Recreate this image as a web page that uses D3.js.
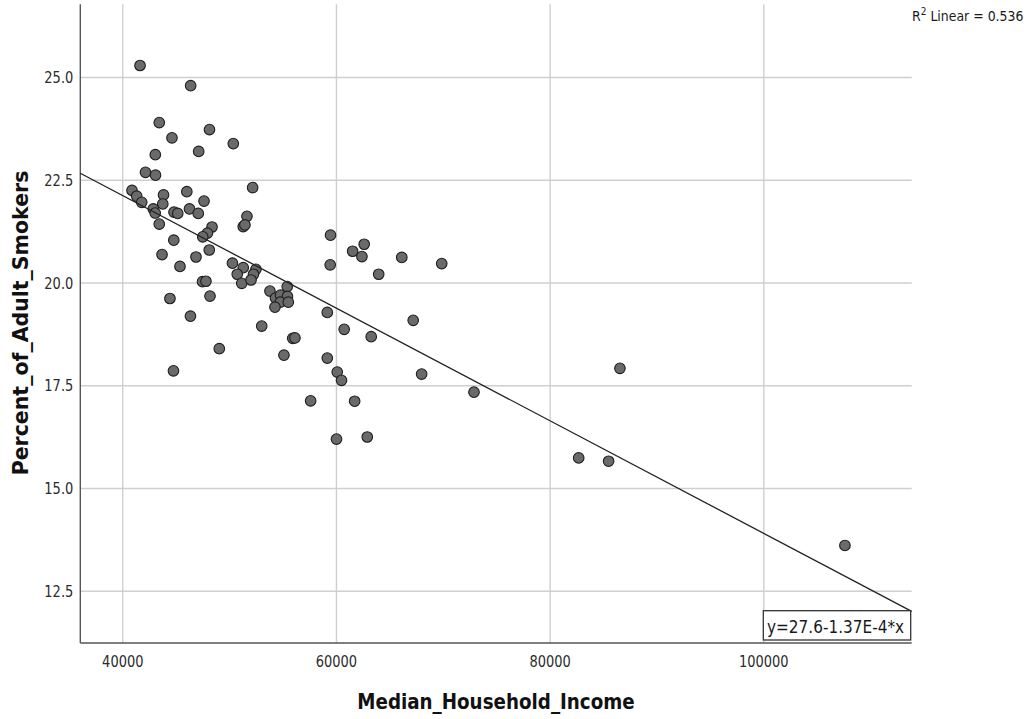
<!DOCTYPE html>
<html>
<head>
<meta charset="utf-8">
<script src="https://cdn.jsdelivr.net/npm/d3@7"></script>
<style>
  html, body { margin: 0; padding: 0; background: #fff; }
  svg { display: block; }
</style>
</head>
<body>
<svg id="chart" width="1033" height="719"></svg>
<script>
// Median household income per county (USD)
const income = [
  41660, 46400, 43460, 48160, 44650, 50390, 47150, 43090, 42170, 43110,
  52200, 40910, 41350, 41820, 43860, 43790, 46040, 47650, 46290, 47110,
  44840, 45190, 42900, 43080, 43460, 51670, 51320, 51480, 48400, 47970,
  47530, 44820, 59490, 62640, 61560, 62430, 66160, 69900, 59460, 64000,
  43720, 48140, 46900, 45400, 50310, 51320, 50760, 52510, 52280, 51180,
  52050, 47510, 47830, 53820, 44460, 48210, 46380, 49080, 44790, 55440,
  54340, 54810, 55460, 54790, 54290, 55540, 53050, 55950, 56160, 55130,
  59190, 67230, 60770, 63300, 59190, 60120, 60520, 68020, 86580, 72920,
  57630, 61750, 60050, 62930, 82720, 85520, 107640
];

// Percent of adult smokers for the same counties
const smokers = [
  25.28, 24.79, 23.89, 23.72, 23.52, 23.38, 23.19, 23.11, 22.68, 22.61,
  22.31, 22.24, 22.10, 21.95, 22.13, 21.91, 22.21, 21.98, 21.79, 21.68,
  21.71, 21.68, 21.79, 21.69, 21.42, 21.61, 21.36, 21.40, 21.35, 21.20,
  21.11, 21.03, 21.15, 20.93, 20.76, 20.63, 20.61, 20.46, 20.43, 20.20,
  20.68, 20.79, 20.62, 20.39, 20.47, 20.36, 20.20, 20.32, 20.20, 19.98,
  20.06, 20.02, 20.03, 19.79, 19.61, 19.67, 19.18, 18.39, 17.85, 19.90,
  19.62, 19.69, 19.66, 19.52, 19.40, 19.52, 18.94, 18.64, 18.65, 18.23,
  19.27, 19.08, 18.86, 18.68, 18.16, 17.82, 17.62, 17.77, 17.91, 17.33,
  17.12, 17.11, 16.19, 16.24, 15.73, 15.65, 13.60
];

const xTicks = [40000, 60000, 80000, 100000];
const yTicks = [12.5, 15.0, 17.5, 20.0, 22.5, 25.0];

// Linear fit shown on the chart
const fitIntercept = 27.6;
const fitSlope = -1.37e-4;
const rSquared = 0.536;

const FONT = "'DejaVu Sans', 'Lucida Grande', sans-serif";
const TEXT_STRETCH = 1.22;   // tall, narrow lettering

const plot = { left: 80.3, right: 911.7, top: 4.3, bottom: 643 };

const svg = d3.select("#chart");

const x = d3.scaleLinear().domain([36070, 113890]).range([plot.left, plot.right]);
const y = d3.scaleLinear().domain([11.227, 26.769]).range([plot.bottom, plot.top]);

// ---- gridlines + tick labels via d3 axes ----
const xAxis = d3.axisBottom(x)
  .tickValues(xTicks)
  .tickFormat(d3.format("d"))
  .tickSize(-(plot.bottom - plot.top))
  .tickSizeOuter(0);

const yAxis = d3.axisLeft(y)
  .tickValues(yTicks)
  .tickFormat(d3.format(".1f"))
  .tickSize(-(plot.right - plot.left))
  .tickSizeOuter(0);

const gx = svg.append("g")
  .attr("transform", `translate(0,${plot.bottom})`)
  .call(xAxis);
const gy = svg.append("g")
  .attr("transform", `translate(${plot.left},0)`)
  .call(yAxis);

[gx, gy].forEach(g => {
  g.select(".domain").remove();
  g.selectAll(".tick line").attr("stroke", "#cfcfcf").attr("stroke-width", 1.4);
  g.selectAll(".tick text")
    .attr("fill", "#2b2b2b")
    .attr("font-family", FONT)
    .attr("font-size", 13);
});

gx.selectAll(".tick text")
  .attr("y", 0).attr("dy", null)
  .attr("text-anchor", "middle")
  .attr("transform", `translate(0,24.3) scale(1,${TEXT_STRETCH})`);

gy.selectAll(".tick text")
  .attr("x", 0).attr("dy", "0.36em")
  .attr("text-anchor", "end")
  .attr("transform", `translate(-7,0) scale(1,${TEXT_STRETCH})`);

// ---- axis lines (left and bottom only) ----
svg.append("line")
  .attr("x1", plot.left).attr("x2", plot.left)
  .attr("y1", plot.top).attr("y2", plot.bottom)
  .attr("stroke", "#555").attr("stroke-width", 1.4);
svg.append("line")
  .attr("x1", plot.left).attr("x2", plot.right)
  .attr("y1", plot.bottom).attr("y2", plot.bottom)
  .attr("stroke", "#555").attr("stroke-width", 1.4);

// ---- data points ----
const points = income.map((v, i) => ({ income: v, smokers: smokers[i] }));
svg.append("g")
  .selectAll("circle")
  .data(points)
  .join("circle")
  .attr("cx", d => x(d.income))
  .attr("cy", d => y(d.smokers))
  .attr("r", 5.3)
  .attr("fill", "#6a6a6a")
  .attr("stroke", "#1e1e1e")
  .attr("stroke-width", 1.1);

// ---- fit line across the whole x range ----
const [xMin, xMax] = x.domain();
const fitLine = d3.line()
  .x(d => x(d))
  .y(d => y(fitIntercept + fitSlope * d));
svg.append("path")
  .datum([xMin, xMax])
  .attr("d", fitLine)
  .attr("fill", "none")
  .attr("stroke", "#222")
  .attr("stroke-width", 1.3);

// ---- equation box ----
const eqBox = svg.append("g");
eqBox.append("rect")
  .attr("x", 763.3).attr("y", 610.7)
  .attr("width", 147.4).attr("height", 29.3)
  .attr("fill", "#fff")
  .attr("stroke", "#333").attr("stroke-width", 1.3);
eqBox.append("g")
  .attr("transform", `translate(767,632.5) scale(1,1.12)`)
  .append("text")
  .attr("font-family", FONT)
  .attr("font-size", 15.3)
  .attr("fill", "#1a1a1a")
  .text(`y=${fitIntercept}-${(-fitSlope * 1e4).toFixed(2)}E-4*x`);

// ---- R² annotation ----
const r2 = svg.append("g")
  .attr("transform", `translate(912,21) scale(1,1.15)`)
  .append("text")
  .attr("font-family", FONT)
  .attr("font-size", 12.5)
  .attr("fill", "#1a1a1a");
r2.append("tspan").text("R");
r2.append("tspan").attr("dy", -5).attr("font-size", 9).text("2");
r2.append("tspan").attr("dy", 5).text(` Linear = ${rSquared}`);

// ---- axis titles ----
svg.append("g")
  .attr("transform", `translate(496,709) scale(1,1.2)`)
  .append("text")
  .attr("text-anchor", "middle")
  .attr("font-family", FONT)
  .attr("font-weight", "bold")
  .attr("font-size", 18.3)
  .attr("fill", "#111")
  .text("Median_Household_Income");

svg.append("text")
  .attr("transform", `translate(28,323) rotate(-90)`)
  .attr("text-anchor", "middle")
  .attr("font-family", FONT)
  .attr("font-weight", "bold")
  .attr("font-size", 20.5)
  .attr("fill", "#111")
  .text("Percent_of_Adult_Smokers");
</script>
</body>
</html>
